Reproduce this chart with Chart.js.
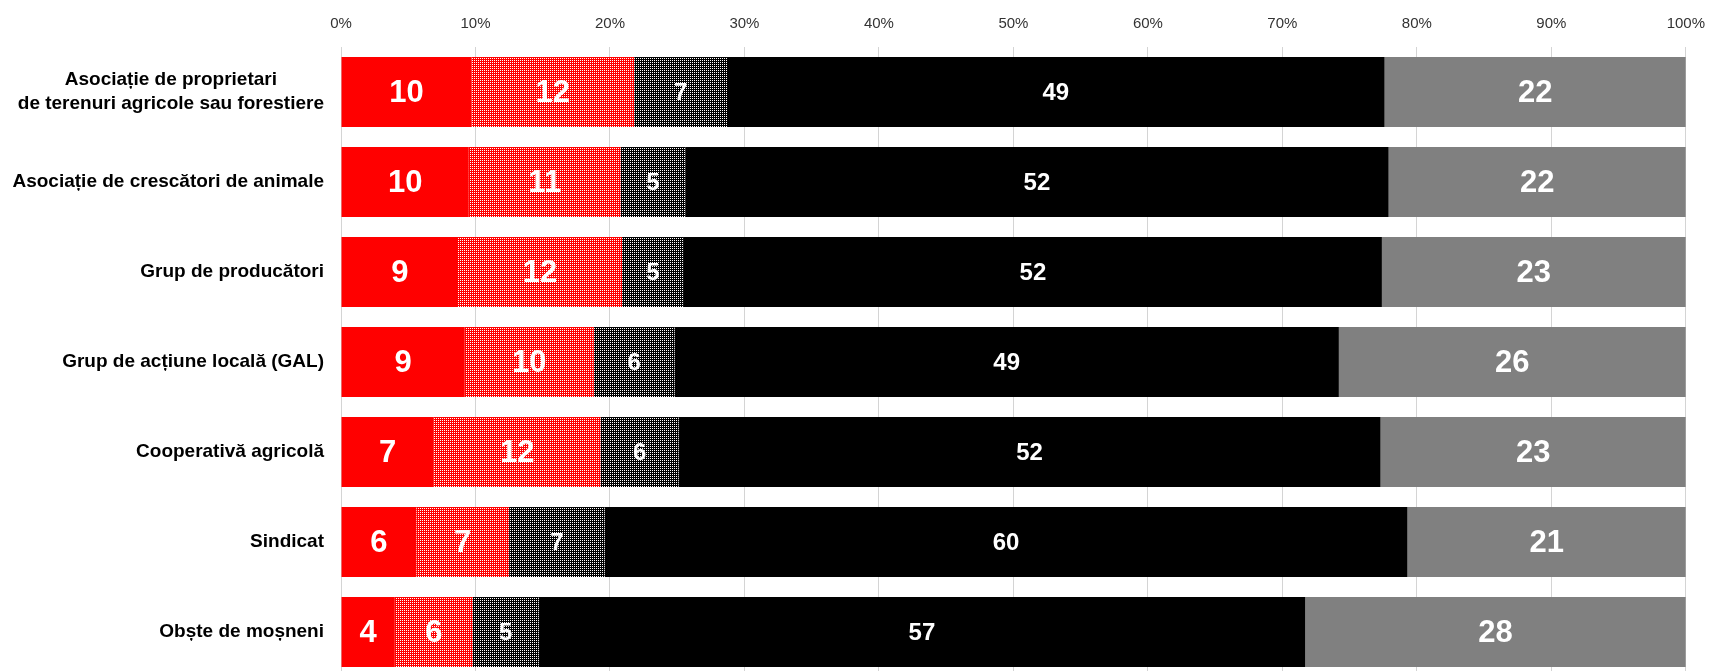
<!DOCTYPE html>
<html>
<head>
<meta charset="utf-8">
<script src="https://cdn.jsdelivr.net/npm/chart.js@4/dist/chart.umd.min.js"></script>
<style>
  html, body { margin: 0; padding: 0; width: 1719px; height: 671px; overflow: hidden; background: #fff; }
  #wrap { position: relative; width: 1719px; height: 677px; }
</style>
</head>
<body>
<div id="wrap"><canvas id="chart"></canvas></div>
<script>
// Categories (rows, top to bottom)
const categories = [
  ['Asociație de proprietari', 'de terenuri agricole sau forestiere'],
  ['Asociație de crescători de animale'],
  ['Grup de producători'],
  ['Grup de acțiune locală (GAL)'],
  ['Cooperativă agricolă'],
  ['Sindicat'],
  ['Obște de moșneni']
];

// Segment shares in %, left to right
const seriesRed      = [9.7, 9.5, 8.7, 9.2, 6.9, 5.6, 4.0];
const seriesRedDots  = [12.1, 11.3, 12.2, 9.6, 12.4, 6.9, 5.8];
const seriesDarkDots = [6.9, 4.8, 4.6, 6.0, 5.8, 7.1, 4.9];
const seriesBlack    = [48.9, 52.3, 51.9, 49.4, 52.2, 59.7, 57.0];
const seriesGray     = [22.4, 22.1, 22.6, 25.8, 22.7, 20.7, 28.3];

// Tick labels for the top axis
const tickValues = [0, 10, 20, 30, 40, 50, 60, 70, 80, 90, 100];

// Build a small dotted pattern (base colour with white dots)
function dotPattern(base) {
  const c = document.createElement('canvas');
  c.width = 2;
  c.height = 2;
  const g = c.getContext('2d');
  g.fillStyle = base;
  g.fillRect(0, 0, 2, 2);
  g.fillStyle = '#ffffff';
  g.fillRect(0, 0, 1, 1);
  return document.getElementById('chart').getContext('2d').createPattern(c, 'repeat');
}

const labelFonts = [31, 31, 24, 24, 31];

// Draw value labels inside each segment
const segmentLabels = {
  id: 'segmentLabels',
  afterDatasetsDraw(chart) {
    const ctx = chart.ctx;
    ctx.save();
    ctx.textAlign = 'center';
    ctx.textBaseline = 'middle';
    ctx.fillStyle = '#ffffff';
    chart.data.datasets.forEach((ds, di) => {
      const meta = chart.getDatasetMeta(di);
      ctx.font = 'bold ' + labelFonts[di] + 'px "Liberation Sans", Arial, sans-serif';
      meta.data.forEach((bar, i) => {
        const v = ds.data[i];
        const x = (bar.x + bar.base) / 2;
        ctx.fillText(String(Math.round(v)), x, bar.y + 1);
      });
    });
    ctx.restore();
  }
};

// Category labels: block right-aligned to the axis, lines centred within the block
const categoryLabels = {
  id: 'categoryLabels',
  afterDraw(chart) {
    const ctx = chart.ctx;
    const yScale = chart.scales.y;
    const right = 324;
    const lineH = 24;
    ctx.save();
    ctx.font = 'bold 19px "Liberation Sans", Arial, sans-serif';
    ctx.fillStyle = '#000000';
    ctx.textAlign = 'center';
    ctx.textBaseline = 'middle';
    categories.forEach((lines, i) => {
      const y = yScale.getPixelForValue(i);
      const w = Math.max(...lines.map(l => ctx.measureText(l).width));
      const cx = right - w / 2;
      const top = y - (lines.length - 1) * lineH / 2;
      lines.forEach((l, k) => ctx.fillText(l, cx, top + k * lineH));
    });
    ctx.restore();
  }
};

const ctx = document.getElementById('chart').getContext('2d');
new Chart(ctx, {
  type: 'bar',
  data: {
    labels: categories.map(c => c.join(' ')),
    datasets: [
      { label: '', data: seriesRed, backgroundColor: '#ff0000' },
      { label: '', data: seriesRedDots, backgroundColor: dotPattern('#ff0000') },
      { label: '', data: seriesDarkDots, backgroundColor: dotPattern('#000000') },
      { label: '', data: seriesBlack, backgroundColor: '#000000' },
      { label: '', data: seriesGray, backgroundColor: '#808080' }
    ]
  },
  options: {
    indexAxis: 'y',
    responsive: true,
    maintainAspectRatio: false,
    animation: false,
    datasets: {
      bar: { barPercentage: 0.778, categoryPercentage: 1, borderWidth: 0 }
    },
    layout: {
      padding: { left: 341, right: 26, top: 1, bottom: 0 }
    },
    plugins: {
      legend: { display: false },
      tooltip: { enabled: false }
    },
    scales: {
      x: {
        position: 'top',
        stacked: true,
        min: 0,
        max: 100,
        afterBuildTicks(scale) {
          scale.ticks = tickValues.map(v => ({ value: v }));
        },
        ticks: {
          padding: 14,
          color: '#333333',
          font: { size: 15, family: '"Liberation Sans", Arial, sans-serif' },
          callback: v => v + '%'
        },
        grid: { color: '#d4d4d4', lineWidth: 1, drawTicks: false },
        border: { display: false }
      },
      y: {
        stacked: true,
        display: false
      }
    }
  },
  plugins: [segmentLabels, categoryLabels]
});
</script>
</body>
</html>
